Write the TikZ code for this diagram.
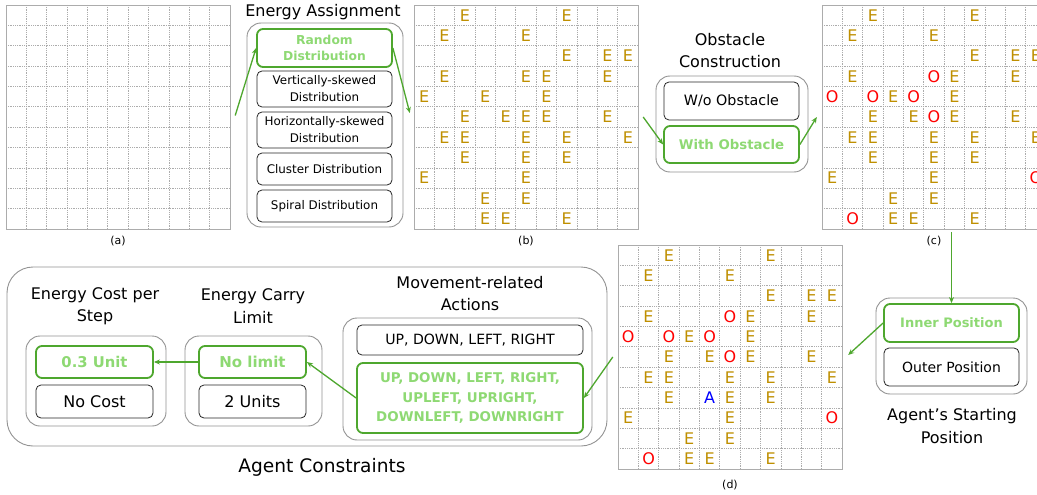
\documentclass[tikz,border=0pt]{standalone}
\usepackage{fontspec}
\setmainfont{DejaVu Sans}
\usetikzlibrary{arrows.meta}
\definecolor{selgreen}{HTML}{4EA72E}
\definecolor{txtgreen}{HTML}{8ED973}
\definecolor{egold}{HTML}{BF8F00}
\definecolor{ored}{HTML}{FF0000}
\definecolor{ablue}{HTML}{0000FF}
\newcommand\fs[2]{\fontsize{#1}{#2}\selectfont}
\def\cs{20.3636}
\newcommand\mygrid[3]{%
  \node[gridnode] (#1) at ({#2+112},{#3+112}) {};
  \foreach \i in {1,...,10} {
    \draw[gline] ({#2+\i*\cs},#3) -- ({#2+\i*\cs},{#3+224});
    \draw[gline] (#2,{#3+\i*\cs}) -- ({#2+224},{#3+\i*\cs});
  }
  \draw[gborder] (#2,#3) rectangle ({#2+224},{#3+224});
}
\begin{document}
\begin{tikzpicture}[x=1pt,y=-1pt,
  gridnode/.style={minimum size=224pt,inner sep=0pt,draw=none},
  gline/.style={draw=gray!65,line width=0.7pt,dash pattern=on 1pt off 0.8pt},
  gborder/.style={draw=gray!65,line width=0.9pt},
  eL/.style={inner sep=0pt,text=egold,font=\fs{16}{16}},
  oL/.style={inner sep=0pt,text=ored,font=\fs{16}{16}},
  aL/.style={inner sep=0pt,text=ablue,font=\fs{16}{16}},
  lbl/.style={inner sep=0pt,font=\fs{11}{12}},
  ttl/.style={inner sep=0pt,align=center,font=\fs{16}{22.5}},
  grp/.style={draw=gray!85,line width=0.9pt,rounded corners=14pt,inner sep=0pt},
  opt/.style={draw=black!85,line width=0.8pt,rounded corners=5pt,inner sep=0pt,align=center},
  sel/.style={draw=selgreen,line width=1.8pt,rounded corners=6pt,inner sep=0pt,align=center,text=txtgreen},
  arr/.style={draw=selgreen,line width=1.3pt,-{Stealth[length=6pt,width=5pt]}}
]
\useasboundingbox (0,0) rectangle (1037,495);
\fill[white] (0,0) rectangle (1037,495);

% ---------------- grids ----------------
\mygrid{ga}{6}{5}
\mygrid{gb}{414}{5}
\begin{scope}
\clip (0,0) rectangle (1037,495);
\mygrid{gc}{822}{5}
\foreach \r/\c in {0/2,0/7,1/1,1/5,2/7,2/9,2/10,3/1,3/6,3/9,4/3,4/6,5/2,5/4,5/6,5/9,6/1,6/2,6/5,6/7,6/10,7/2,7/5,7/7,8/0,8/5,9/3,9/5,10/3,10/4,10/7}
  \node[eL] (gc-\r-\c) at ({822+(\c+0.5)*\cs},{5+(\r+0.5)*\cs}) {E};
\foreach \r/\c in {3/5,4/0,4/2,4/4,5/5,8/10,10/1}
  \node[oL] (gco-\r-\c) at ({822+(\c+0.5)*\cs},{5+(\r+0.5)*\cs}) {O};
\end{scope}
\mygrid{gd}{618}{245}

\foreach \r/\c in {0/2,0/7,1/1,1/5,2/7,2/9,2/10,3/1,3/5,3/6,3/9,4/0,4/3,4/6,5/2,5/4,5/5,5/6,5/9,6/1,6/2,6/5,6/7,6/10,7/2,7/5,7/7,8/0,8/5,9/3,9/5,10/3,10/4,10/7}
  \node[eL] (gb-\r-\c) at ({414+(\c+0.5)*\cs},{5+(\r+0.5)*\cs}) {E};

\foreach \r/\c in {0/2,0/7,1/1,1/5,2/7,2/9,2/10,3/1,3/6,3/9,4/3,4/6,5/2,5/4,5/6,5/9,6/1,6/2,6/5,6/7,6/10,7/2,7/5,7/7,8/0,8/5,9/3,9/5,10/3,10/4,10/7}
  \node[eL] (gd-\r-\c) at ({618+(\c+0.5)*\cs},{245+(\r+0.5)*\cs}) {E};
\foreach \r/\c in {3/5,4/0,4/2,4/4,5/5,8/10,10/1}
  \node[oL] (gdo-\r-\c) at ({618+(\c+0.5)*\cs},{245+(\r+0.5)*\cs}) {O};
\node[aL] (agent) at ({618+4.5*\cs},{245+7.5*\cs}) {A};

\node[lbl] (la) at (118,241) {(a)};
\node[lbl] (lb) at (526,241) {(b)};
\node[lbl] (lc) at (934,241) {(c)};
\node[lbl] (ld) at (730,485) {(d)};

% ---------------- Energy Assignment ----------------
\node[ttl] (eatitle) at (323,12) {Energy Assignment};
\node[grp, minimum width=156pt, minimum height=204pt] (eagrp) at (325,125) {};
\node[sel, minimum width=135pt, minimum height=38pt, font=\bfseries\fs{12.3}{16}] (rand) at (324.5,48) {Random\\Distribution};
\node[opt, minimum width=135pt, minimum height=36pt, font=\fs{11.9}{17}] (vert) at (324.5,89) {Vertically-skewed\\Distribution};
\node[opt, minimum width=135pt, minimum height=36pt, font=\fs{11.9}{17}] (horiz) at (324.5,130) {Horizontally-skewed\\Distribution};
\node[opt, minimum width=135pt, minimum height=32pt, font=\fs{11.9}{17}] (clus) at (324.5,169) {Cluster Distribution};
\node[opt, minimum width=135pt, minimum height=32pt, font=\fs{11.9}{17}] (spir) at (324.5,206) {Spiral Distribution};

% ---------------- Obstacle Construction ----------------
\node[ttl] (obtitle) at (730,50.5) {Obstacle\\Construction};
\node[grp, minimum width=152pt, minimum height=96pt] (obgrp) at (732,124) {};
\node[opt, minimum width=135pt, minimum height=38pt, font=\fs{14.3}{17}] (wo) at (731.5,101) {W/o Obstacle};
\node[sel, minimum width=135pt, minimum height=37pt, font=\bfseries\fs{13.3}{16}] (with) at (731.5,144.5) {With Obstacle};

% ---------------- Agent's Starting Position ----------------
\node[grp, minimum width=151pt, minimum height=96pt] (stgrp) at (951.5,346) {};
\node[sel, minimum width=135pt, minimum height=38pt, font=\bfseries\fs{13}{16}] (inner) at (951.5,323) {Inner Position};
\node[opt, minimum width=135pt, minimum height=38pt, font=\fs{14}{17}] (outer) at (951.5,367) {Outer Position};
\node[ttl] (sttitle) at (952,426) {Agent’s Starting\\Position};

% ---------------- Agent Constraints ----------------
\node[grp, rounded corners=26pt, minimum width=600pt, minimum height=179pt] (acgrp) at (307,356.5) {};
\node[ttl, font=\fs{18.6}{22}] (actitle) at (322,467) {Agent Constraints};

\node[ttl] (ectitle) at (95,306) {Energy Cost per\\Step};
\node[grp, minimum width=140pt, minimum height=90pt] (ecgrp) at (96,381) {};
\node[sel, minimum width=117pt, minimum height=32pt, font=\bfseries\fs{14.8}{16}] (unit) at (94.5,362) {0.3 Unit};
\node[opt, minimum width=117pt, minimum height=33pt, font=\fs{16}{17}] (nocost) at (94.5,401.5) {No Cost};

\node[ttl] (cltitle) at (253,306) {Energy Carry\\Limit};
\node[grp, minimum width=137pt, minimum height=90pt] (clgrp) at (253.5,381) {};
\node[sel, minimum width=107pt, minimum height=32pt, font=\bfseries\fs{15}{16}] (nolim) at (252.5,362) {No limit};
\node[opt, minimum width=107pt, minimum height=33pt, font=\fs{16}{17}] (two) at (252.5,401.5) {2 Units};

\node[ttl] (mvtitle) at (470,293.5) {Movement-related\\Actions};
\node[grp, minimum width=249pt, minimum height=122pt] (mvgrp) at (467.5,379) {};
\node[opt, minimum width=226pt, minimum height=30pt, font=\fs{14.1}{17}] (four) at (470,340) {UP, DOWN, LEFT, RIGHT};
\node[sel, minimum width=226pt, minimum height=70pt, font=\bfseries\fs{13.4}{19.5}] (eight) at (470,398) {UP, DOWN, LEFT, RIGHT,\\UPLEFT, UPRIGHT,\\DOWNLEFT, DOWNRIGHT};

% ---------------- connectors ----------------
\draw[arr] ([xshift=5pt,yshift=1.5pt]ga.east) -- (rand.west);
\draw[arr] (rand.east) -- ([xshift=-4pt,yshift=4pt]gb.west);
\draw[arr] ([xshift=5pt]gb.east) -- (with.west);
\draw[arr] (with.east) -- ([xshift=-5pt]gc.west);
\path (inner.north |- gc.south) ++(0,3) coordinate (c5);
\draw[arr] (c5) -- (inner.north);
\draw[arr] (inner.west) -- ([xshift=6pt,yshift=2pt]gd.east);
\draw[arr] ([xshift=-5pt]gd.west) -- (eight.east);
\draw[arr] (eight.west) -- (nolim.east);
\draw[arr] (nolim.west) -- (unit.east);
\end{tikzpicture}
\end{document}
